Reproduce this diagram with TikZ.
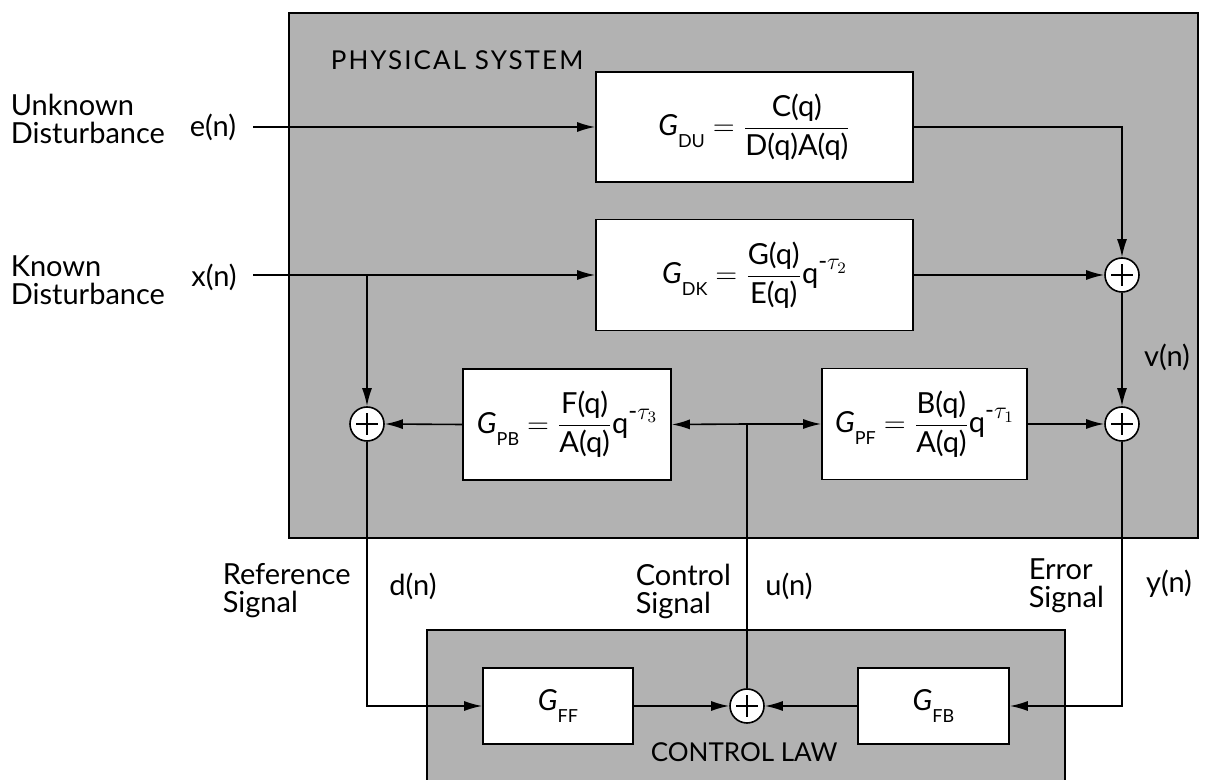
\documentclass[tikz,border=0pt]{standalone}
\usepackage{amsmath}
\usepackage{fontspec}
\setmainfont{Lato}
\usetikzlibrary{arrows.meta,positioning}

\newcommand{\Gsym}[1]{\textit{G}\raisebox{-6pt}{\fontsize{9}{9}\selectfont #1}}
\newcommand{\qdel}[1]{\text{q}\raisebox{7pt}{\fontsize{12}{12}\selectfont -$\tau_{#1}$}}

\tikzset{
  area/.style={draw, fill=black!30, line width=0.8pt},
  block/.style={draw, fill=white, line width=0.8pt, inner sep=0pt},
  sumjn/.style={draw, circle, fill=white, line width=0.8pt, minimum size=17pt, inner sep=0pt,
    path picture={
      \draw[line width=0.8pt] ([xshift=-5.5pt]path picture bounding box.center) -- ([xshift=5.5pt]path picture bounding box.center);
      \draw[line width=0.8pt] ([yshift=-5.5pt]path picture bounding box.center) -- ([yshift=5.5pt]path picture bounding box.center);
    }},
  lbl/.style={align=left, inner sep=0pt},
  title/.style={inner sep=0pt, font=\fontsize{13}{13}\selectfont},
}

\begin{document}
\begin{tikzpicture}[x=0.5pt, y=-0.5pt, >={Latex[length=9pt,width=5pt]}, line width=0.8pt,
  font=\fontsize{14.5}{14}\selectfont]
\useasboundingbox (0,0) rectangle (1207,780);

% shaded areas
\draw[area] (289,13) rectangle (1198,538);
\draw[area] (427,630) rectangle (1065,795);
\node[title, anchor=base west] (phys) at (330,70) {\addfontfeature{LetterSpace=8}PHYSICAL SYSTEM};
\node[title, anchor=base west] (law) at (650,762) {CONTROL LAW};

% blocks
\node[block, minimum width=158.5pt, minimum height=55pt] (GDU) at (754.5,127)
  {$\Gsym{DU}=\dfrac{\text{C(q)}}{\text{D(q)A(q)}}$};
\node[block, minimum width=158.5pt, minimum height=55.5pt] (GDK) at (754.5,275)
  {$\Gsym{DK}=\dfrac{\text{G(q)}}{\text{E(q)}}\qdel{2}$};
\node[block, minimum width=104pt, minimum height=55.5pt] (GPB) at (567,424.5)
  {$\Gsym{PB}=\dfrac{\text{F(q)}}{\text{A(q)}}\qdel{3}$};
\node[block, minimum width=102.5pt, minimum height=55.5pt] (GPF) at (924.5,424)
  {$\Gsym{PF}=\dfrac{\text{B(q)}}{\text{A(q)}}\qdel{1}$};
\node[block, minimum width=75pt, minimum height=38pt] (GFF) at (558,706) {$\Gsym{FF}$};
\node[block, minimum width=75.5pt, minimum height=38pt] (GFB) at (933.5,706) {$\Gsym{FB}$};

% summing junctions
\node[sumjn] (s1) at (1122,275) {};
\node[sumjn] (s2) at (1122,424) {};
\node[sumjn] (s3) at (367,424) {};
\node[sumjn] (s4) at (747,706) {};

\coordinate (ein) at (253,127);
\coordinate (xin) at (253,275);
\coordinate (xbr) at (367,275);
\coordinate (uup) at (747,424);

% labels
\node[lbl, anchor=north west] (unk) at (10,93) {Unknown\\Disturbance};
\node[lbl, anchor=north west] (kno) at (10,255) {Known\\Disturbance};
\node (e) at (213,127) {e(n)};
\node (x) at (214,277) {x(n)};
\node (v) at (1167,357) {v(n)};
\node[lbl, anchor=north west] (refs) at (222,563) {Reference\\Signal};
\node (d) at (413,586) {d(n)};
\node[lbl, anchor=north west] (ctls) at (635,563) {Control\\Signal};
\node (u) at (789,586) {u(n)};
\node[lbl, anchor=north west] (errs) at (1028,558) {Error\\Signal};
\node (y) at (1169,584) {y(n)};

% connections
\draw[->] (ein) -- (GDU.west);
\draw[->] (GDU.east) -| (s1.north);
\draw[->] (xin) -- (GDK.west);
\draw[->] (GDK.east) -- (s1.west);
\draw[->] (xbr) -- (s3.north);
\draw[->] (s1.south) -- (s2.north);
\draw[->] (GPF.east) -- (s2.west);
\draw[->] (GPB.west) -- (s3.east);
\draw[->] (s3.south) |- (GFF.west);
\draw[->] (s2.south) |- (GFB.east);
\draw[->] (GFF.east) -- (s4.west);
\draw[->] (GFB.west) -- (s4.east);
\draw (s4.north) -- (uup);
\draw[->] (uup) -- (GPB.east);
\draw[->] (uup) -- (GPF.west);

\end{tikzpicture}
\end{document}
